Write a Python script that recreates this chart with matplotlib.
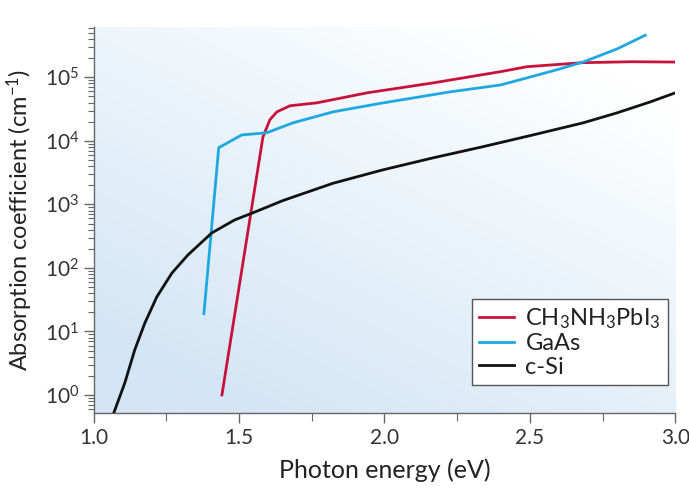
import numpy as np
import matplotlib
matplotlib.use('Agg')
import matplotlib.pyplot as plt
from matplotlib.colors import LinearSegmentedColormap

plt.rcParams['font.family'] = ['Lato', 'DejaVu Sans']
plt.rcParams['mathtext.fontset'] = 'custom'
plt.rcParams['mathtext.rm'] = 'Lato'
plt.rcParams['mathtext.it'] = 'Lato:italic'

# photon energy (eV) / absorption coefficient (cm^-1)
mapi_x = [1.441, 1.582, 1.606, 1.63, 1.675, 1.768, 1.94, 2.167, 2.40, 2.49, 2.68, 2.85, 3.0]
mapi_y = [1.0, 11500, 21500, 28600, 35700, 39700, 57000, 81700, 123000, 147000, 170000, 176000, 174000]

gaas_x = [1.379, 1.430, 1.509, 1.595, 1.685, 1.823, 1.995, 2.225, 2.40, 2.49, 2.594, 2.683, 2.80, 2.897]
gaas_y = [19, 7800, 12400, 13400, 19200, 28600, 39600, 59000, 76000, 98000, 132000, 174000, 280000, 460000]

si_x = [1.069, 1.107, 1.141, 1.176, 1.217, 1.269, 1.324, 1.406, 1.485, 1.547, 1.651, 1.823, 1.995,
        2.167, 2.339, 2.511, 2.683, 2.80, 2.914, 3.0]
si_y = [0.52, 1.55, 5.1, 13.6, 35, 83, 160, 355, 570, 735, 1150, 2150, 3500,
        5400, 8100, 12400, 19200, 27600, 41000, 57000]

labels = [r'CH$_3$NH$_3$PbI$_3$', 'GaAs', 'c-Si']
colors = ['#c8123c', '#1fa8e0', '#111111']

fig = plt.figure(figsize=(6.89, 5.0), dpi=100)
ax = fig.add_axes([0.136, 0.174, 0.844, 0.772])

# light blue wash, strongest bottom-left, fading to white top-right
gx, gy = np.meshgrid(np.linspace(0, 1, 200), np.linspace(0, 1, 200))
grad = np.clip(1.15 - 0.55 * gx - 0.75 * gy, 0, 1)
cmap = LinearSegmentedColormap.from_list('wash', ['#ffffff', '#d3e6f5'])
ax.imshow(grad, extent=[0, 1, 0, 1], transform=ax.transAxes, cmap=cmap,
          origin='lower', aspect='auto', zorder=0, vmin=0, vmax=1)

for xs, ys, lab, c in zip([mapi_x, gaas_x, si_x], [mapi_y, gaas_y, si_y], labels, colors):
    ax.plot(xs, ys, color=c, lw=2.0, label=lab, zorder=3, solid_joinstyle='round')

ax.set_yscale('log')
ax.set_xlim(1.0, 3.0)
ax.set_ylim(0.52, 6.2e5)
ax.set_xticks([1.0, 1.5, 2.0, 2.5, 3.0])
ax.set_xticks([1.25, 1.75, 2.25, 2.75], minor=True)
ax.set_yticks([1, 10, 100, 1e3, 1e4, 1e5])

for s in ['top', 'right']:
    ax.spines[s].set_visible(False)
for s in ['left', 'bottom']:
    ax.spines[s].set_color('#666666')
    ax.spines[s].set_linewidth(1.0)
ax.tick_params(which='major', direction='out', length=7, width=1.0, color='#666666',
               labelsize=15, labelcolor='#333333')
ax.tick_params(which='minor', direction='out', length=4, width=0.8, color='#666666')
ax.tick_params(axis='x', which='minor', length=6)

ax.set_xlabel('Photon energy (eV)', fontsize=18, color='#222222', labelpad=8)
ax.set_ylabel(r'Absorption coefficient (cm$^{-1}$)', fontsize=17, color='#222222', labelpad=7)

leg = ax.legend(loc='lower right', bbox_to_anchor=(0.988, 0.073), fontsize=17,
                frameon=True, fancybox=False, handlelength=1.45, handletextpad=0.5,
                borderpad=0.3, labelspacing=0.1, borderaxespad=0)
leg.get_frame().set_edgecolor('#555555')
leg.get_frame().set_linewidth(1.0)
leg.get_frame().set_facecolor('white')
leg.get_frame().set_alpha(1.0)
for t in leg.get_texts():
    t.set_color('#222222')

plt.savefig('out.png', dpi=100)
